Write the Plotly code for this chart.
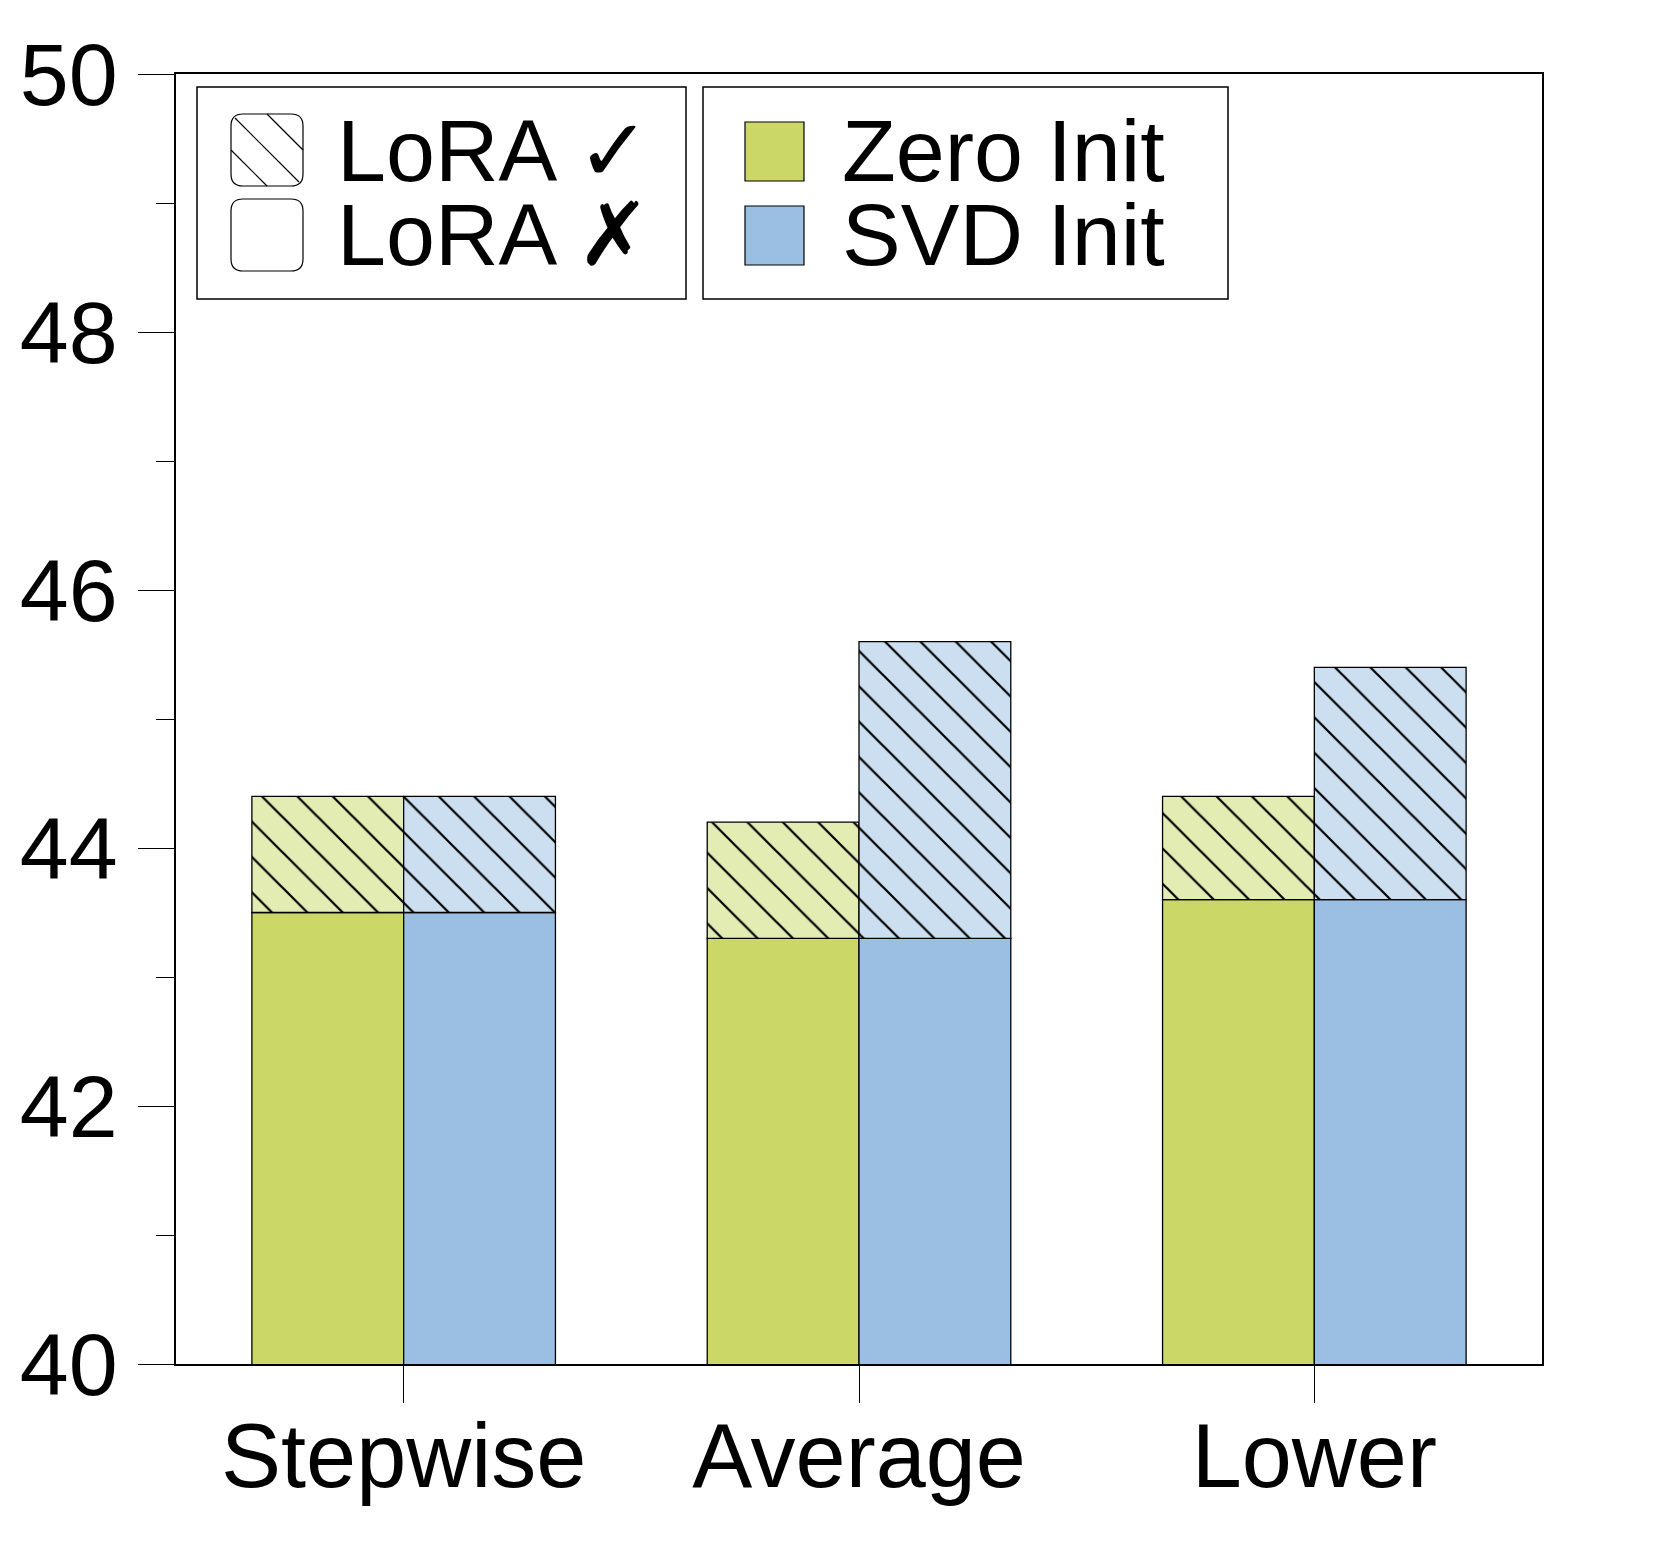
import plotly.graph_objects as go

# Data
categories = ["Stepwise", "Average", "Lower"]
zero_no_lora = [43.5, 43.3, 43.6]
zero_lora = [44.4, 44.2, 44.4]
svd_no_lora = [43.5, 43.3, 43.6]
svd_lora = [44.4, 45.6, 45.4]
y_ticks = [40, 42, 44, 46, 48, 50]

# Colors
green = "#cbd868"
green_light = "#e3ecb2"
blue = "#9abfe3"
blue_light = "#ccdff0"

FONT = "Liberation Sans, Arial, Helvetica, DejaVu Sans"

# figure size / margins (px)
W, H = 1645, 1545
L, R, T, B = 168, 111, 66, 189
PW, PH = W - L - R, H - T - B


def px(x):
    return (x - L) / PW


def py(y):
    return (H - B - y) / PH


fig = go.Figure()

hatch = dict(shape="\\", size=25, solidity=0.09, fgcolor="black", fgopacity=1)

# solid parts (LoRA off)
fig.add_trace(go.Bar(
    x=categories, y=zero_no_lora, name="Zero Init, LoRA ✗",
    offsetgroup="zero", marker=dict(color=green, line=dict(color="black", width=1.3)),
    hovertemplate="Zero Init, LoRA ✗: %{y}<extra></extra>"
))
fig.add_trace(go.Bar(
    x=categories, y=[a - b for a, b in zip(zero_lora, zero_no_lora)], base=zero_no_lora,
    name="Zero Init, LoRA ✓", offsetgroup="zero",
    marker=dict(color=green_light, line=dict(color="black", width=1.3),
                pattern=dict(bgcolor=green_light, **hatch)),
    customdata=zero_lora, hovertemplate="Zero Init, LoRA ✓: %{customdata}<extra></extra>"
))
fig.add_trace(go.Bar(
    x=categories, y=svd_no_lora, name="SVD Init, LoRA ✗",
    offsetgroup="svd", marker=dict(color=blue, line=dict(color="black", width=1.3)),
    hovertemplate="SVD Init, LoRA ✗: %{y}<extra></extra>"
))
fig.add_trace(go.Bar(
    x=categories, y=[a - b for a, b in zip(svd_lora, svd_no_lora)], base=svd_no_lora,
    name="SVD Init, LoRA ✓", offsetgroup="svd",
    marker=dict(color=blue_light, line=dict(color="black", width=1.3),
                pattern=dict(bgcolor=blue_light, **hatch)),
    customdata=svd_lora, hovertemplate="SVD Init, LoRA ✓: %{customdata}<extra></extra>"
))

# hand-made legend (plotly swatches are too small)
shapes = []
annotations = []


def box(x0, y0, x1, y1, fill="white", width=1.5):
    shapes.append(dict(type="rect", xref="paper", yref="paper",
                       x0=px(x0), x1=px(x1), y0=py(y1), y1=py(y0),
                       line=dict(color="black", width=width), fillcolor=fill, layer="above"))


def rounded(x0, y0, x1, y1, r=12):
    p = (f"M{px(x0 + r)},{py(y0)} L{px(x1 - r)},{py(y0)} Q{px(x1)},{py(y0)} {px(x1)},{py(y0 + r)} "
         f"L{px(x1)},{py(y1 - r)} Q{px(x1)},{py(y1)} {px(x1 - r)},{py(y1)} "
         f"L{px(x0 + r)},{py(y1)} Q{px(x0)},{py(y1)} {px(x0)},{py(y1 - r)} "
         f"L{px(x0)},{py(y0 + r)} Q{px(x0)},{py(y0)} {px(x0 + r)},{py(y0)} Z")
    shapes.append(dict(type="path", xref="paper", yref="paper", path=p,
                       line=dict(color="black", width=1.2), fillcolor="white", layer="above"))


def seg(xa, ya, xb, yb):
    shapes.append(dict(type="line", xref="paper", yref="paper",
                       x0=px(xa), y0=py(ya), x1=px(xb), y1=py(yb),
                       line=dict(color="black", width=1.2), layer="above"))


def label(x, y, text):
    annotations.append(dict(xref="paper", yref="paper", x=px(x), y=py(y), text=text,
                            showarrow=False, xanchor="left", yanchor="middle",
                            font=dict(family=FONT, size=88, color="black")))


box(189, 79, 678, 291)
box(695, 79, 1220, 291)

# hatched swatch
sx0, sy0, s = 223, 106, 72
rounded(sx0, sy0, sx0 + s, sy0 + s)
seg(sx0 + 4, sy0 + 4, sx0 + s - 4, sy0 + s - 4)
seg(sx0 + s / 2, sy0, sx0 + s, sy0 + s / 2)
seg(sx0, sy0 + s / 2, sx0 + s / 2, sy0 + s)
# empty swatch
rounded(sx0, 191, sx0 + s, 191 + s)

# colour swatches
box(737, 114, 796, 173, fill=green, width=1.2)
box(737, 198, 796, 257, fill=blue, width=1.2)

label(327, 143, "LoRA ✓")
label(327, 227, "LoRA ✗")
label(832, 143, "Zero Init")
label(832, 227, "SVD Init")

fig.update_layout(
    width=W, height=H,
    margin=dict(l=L, r=R, t=T, b=B, pad=0, autoexpand=False),
    barmode="group", bargap=1 / 3, bargroupgap=0,
    showlegend=False,
    plot_bgcolor="white", paper_bgcolor="white",
    font=dict(family=FONT, color="black"),
    shapes=shapes, annotations=annotations,
    xaxis=dict(
        range=[-0.5, 2.5], showgrid=False, showline=True, linecolor="black", linewidth=1.5,
        mirror=True, ticks="outside", ticklen=37, tickwidth=1.2, tickcolor="black",
        tickfont=dict(family=FONT, size=90, color="black"), ticklabelstandoff=-24,
        automargin=False,
    ),
    yaxis=dict(
        range=[40, 50], tickvals=y_ticks, showgrid=False, showline=True, linecolor="black",
        linewidth=1.5, mirror=True, ticks="outside", ticklen=36, tickwidth=1.2, tickcolor="black",
        tickfont=dict(family=FONT, size=88, color="black"), ticklabelstandoff=3,
        minor=dict(dtick=1, ticks="outside", ticklen=18, tickwidth=1.2, tickcolor="black", showgrid=False),
        zeroline=False, automargin=False,
    ),
)

fig.write_html("out.html")
